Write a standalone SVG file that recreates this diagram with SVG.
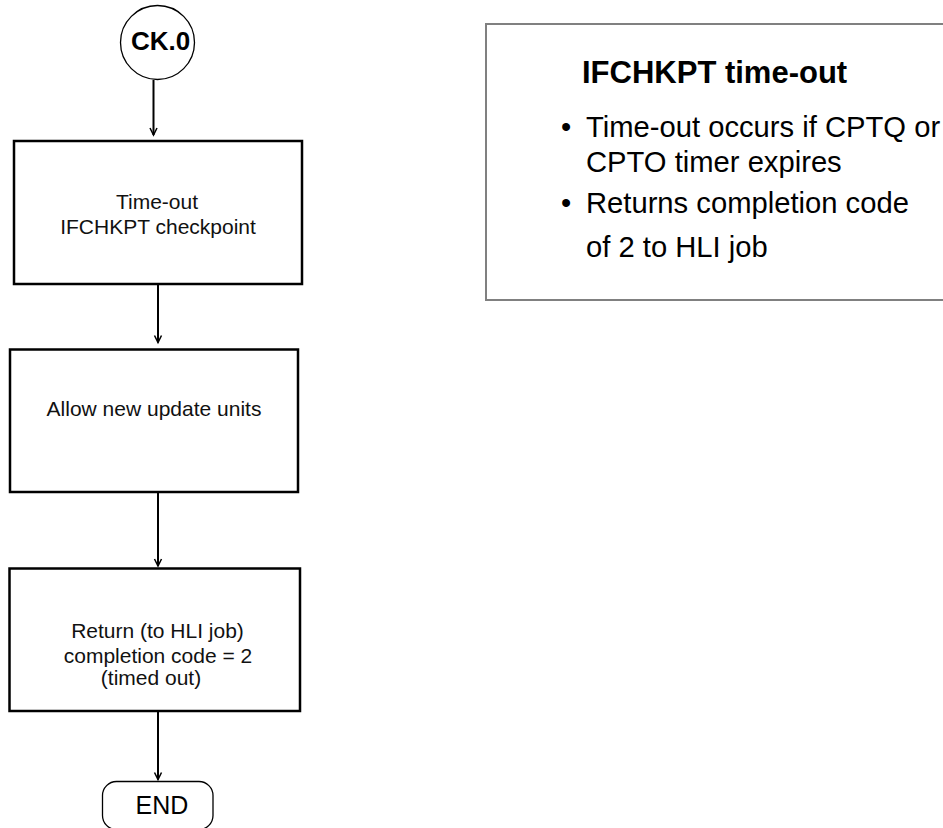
<svg xmlns="http://www.w3.org/2000/svg" width="943" height="828" viewBox="0 0 943 828">
  <style>
    .node { fill: #ffffff; stroke: #000000; stroke-width: 2.5; }
    .thin { fill: #ffffff; stroke: #000000; stroke-width: 1.3; }
    .lbl { font-family: "Liberation Sans", Arial, sans-serif; font-size: 21px; fill: #111111; text-anchor: middle; }
    .conn { stroke: #000000; stroke-width: 2; fill: none; marker-end: url(#vhead); }
    .note { fill: #ffffff; stroke: #808080; stroke-width: 2; }
    .ntitle { font-family: "Liberation Sans", Arial, sans-serif; font-size: 31px; font-weight: bold; fill: #000000; }
    .ntext { font-family: "Liberation Sans", Arial, sans-serif; font-size: 29.2px; fill: #000000; }
  </style>
  <defs>
    <marker id="vhead" markerUnits="userSpaceOnUse" markerWidth="12" markerHeight="12" viewBox="-9 -6 12 12" refX="0" refY="0" orient="auto" overflow="visible">
      <path d="M -7 -3.5 L 0 0 L -7 3.5" fill="none" stroke="#000000" stroke-width="1.5"/>
    </marker>
  </defs>

  <!-- connectors -->
  <g id="connectors">
    <line class="conn" x1="153.5" y1="80" x2="153.5" y2="135"/>
    <line class="conn" x1="158" y1="285" x2="158" y2="342.5"/>
    <line class="conn" x1="158" y1="493" x2="158" y2="566"/>
    <line class="conn" x1="158" y1="712" x2="158" y2="779.5"/>
  </g>

  <g id="start">
    <circle class="thin" cx="157.5" cy="42.5" r="37"/>
    <text x="160.5" y="50" font-family="Liberation Sans, Arial, sans-serif" font-size="26" font-weight="bold" text-anchor="middle">CK.0</text>
  </g>

  <g id="timeout">
    <rect class="node" x="14" y="141" width="288" height="143"/>
    <text class="lbl" x="157" y="209">Time-out</text>
    <text class="lbl" x="158" y="234">IFCHKPT checkpoint</text>
  </g>

  <g id="allow">
    <rect class="node" x="10" y="349.5" width="288" height="142.5"/>
    <text class="lbl" x="154" y="416">Allow new update units</text>
  </g>

  <g id="return">
    <rect class="node" x="9.5" y="568.5" width="290.5" height="142.5"/>
    <text class="lbl" x="157.5" y="638">Return (to HLI job)</text>
    <text class="lbl" x="158" y="663">completion code = 2</text>
    <text class="lbl" x="151" y="684.5">(timed out)</text>
  </g>

  <g id="end">
    <rect class="thin" x="102.5" y="781.5" width="110.5" height="48" rx="14" ry="14"/>
    <text x="162" y="814" font-family="Liberation Sans, Arial, sans-serif" font-size="25" text-anchor="middle">END</text>
  </g>

  <g id="note">
    <rect class="note" x="486" y="24" width="470" height="276"/>
    <text class="ntitle" x="582" y="83">IFCHKPT time-out</text>
    <text class="ntext" x="561" y="137">•</text>
    <text class="ntext" x="586" y="137">Time-out occurs if CPTQ or</text>
    <text class="ntext" x="586" y="172">CPTO timer expires</text>
    <text class="ntext" x="561" y="213">•</text>
    <text class="ntext" x="586" y="213">Returns completion code</text>
    <text class="ntext" x="586" y="256.5">of 2 to HLI job</text>
  </g>
</svg>
